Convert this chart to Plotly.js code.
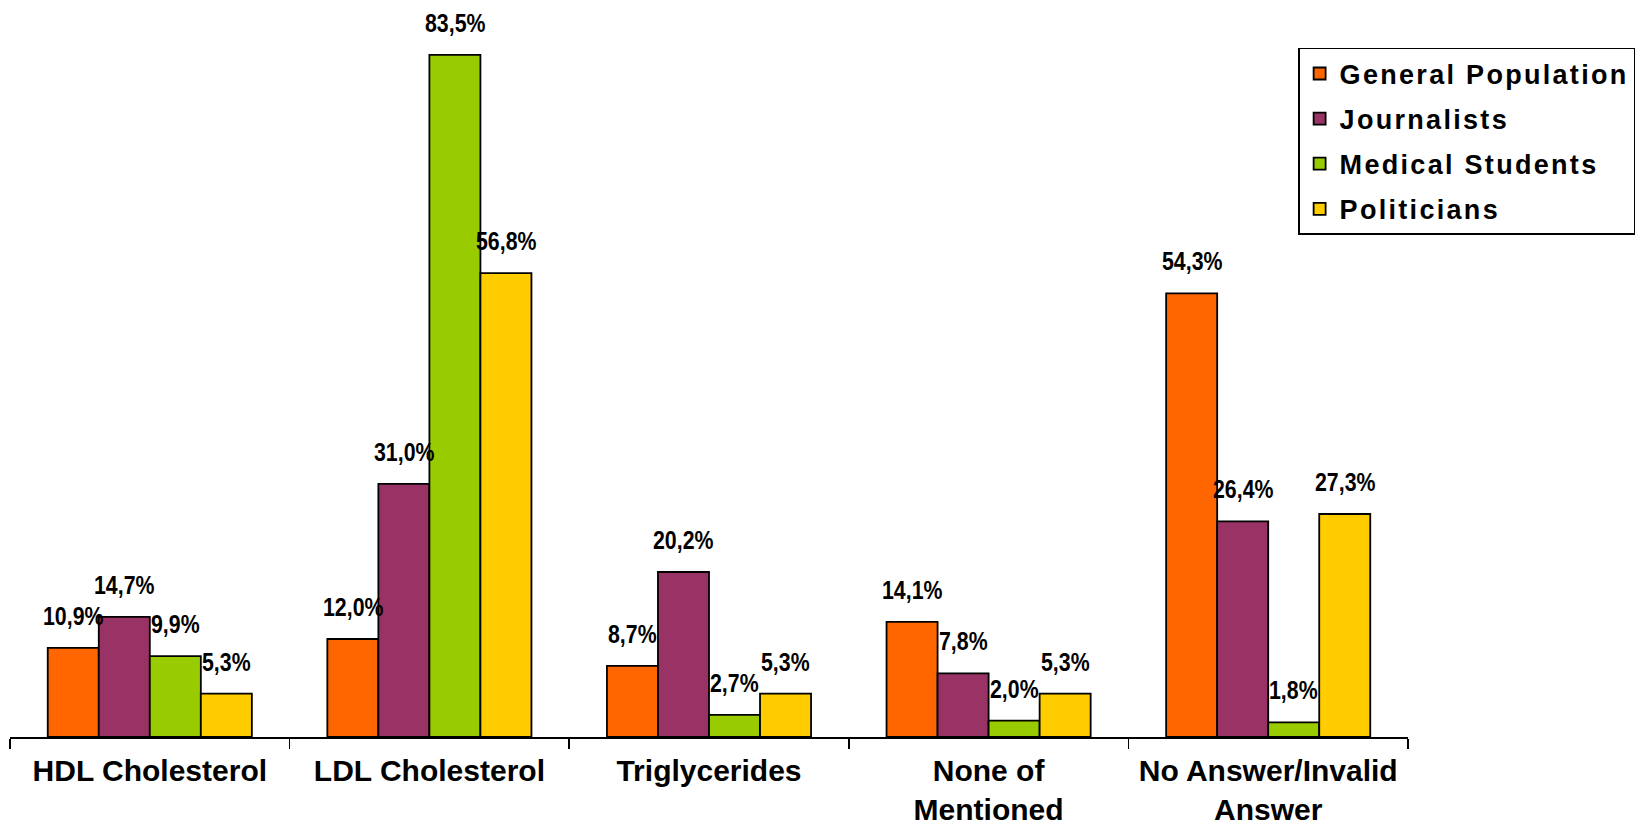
<!DOCTYPE html>
<html>
<head>
<meta charset="utf-8">
<script src="https://cdn.plot.ly/plotly-3.0.1.min.js"></script>
<style>
  html, body { margin: 0; padding: 0; background: #fff; }
  #chart { width: 1645px; height: 827px; }
  .legendtext { letter-spacing: 2.3px; }
  .annotation-text { transform-box: fill-box; transform-origin: center; transform: scaleX(0.82); }
</style>
</head>
<body>
<div id="chart"></div>
<script>
// ---- data ----
const categories = ["HDL Cholesterol", "LDL Cholesterol", "Triglycerides", "None of<br>Mentioned", "No Answer/Invalid<br>Answer"];
const seriesNames = ["General Population", "Journalists", "Medical Students", "Politicians"];
const generalPopulation = [10.9, 12.0, 8.7, 14.1, 54.3];
const journalists = [14.7, 31.0, 20.2, 7.8, 26.4];
const medicalStudents = [9.9, 83.5, 2.7, 2.0, 1.8];
const politicians = [5.3, 56.8, 5.3, 5.3, 27.3];
const seriesValues = [generalPopulation, journalists, medicalStudents, politicians];

// ---- styles ----
const colors = ["#FF6600", "#993366", "#99CC00", "#FFCC00"];
const bargap = 0.27;
const barW = (1 - bargap) / seriesValues.length;
const labelFont = { family: "Liberation Sans, Arial, sans-serif", size: 26, weight: 700, color: "#000" };
const axisFont = { family: "Liberation Sans, Arial, sans-serif", size: 30, weight: 700, color: "#000" };
const legendFont = { family: "Liberation Sans, Arial, sans-serif", size: 27, weight: 700, color: "#000" };

const traces = seriesValues.map((vals, j) => ({
  type: "bar",
  name: seriesNames[j],
  x: categories,
  y: vals,
  legendgroup: "g" + j,
  marker: { color: colors[j], line: { color: "#000", width: 1.8 } },
  hoverinfo: "skip"
}));

const annotations = [];
seriesValues.forEach((vals, j) => {
  vals.forEach((v, i) => {
    annotations.push({
      x: i + (j - (seriesValues.length - 1) / 2) * barW,
      y: v,
      xref: "x", yref: "y",
      text: v.toFixed(1).replace(".", ",") + "%",
      showarrow: false,
      xanchor: "center", yanchor: "middle",
      yshift: 32,
      font: labelFont
    });
  });
});

const layout = {
  width: 1645, height: 827,
  margin: { l: 10, r: 234, t: 10, b: 90 },
  paper_bgcolor: "#fff", plot_bgcolor: "#fff",
  barmode: "group",
  bargap: bargap,
  bargroupgap: 0,
  showlegend: true,
  legend: {
    x: 0.9214, y: 0.9478, xanchor: "left", yanchor: "top",
    bgcolor: "#fff", bordercolor: "#000", borderwidth: 1.5,
    font: legendFont,
    traceorder: "grouped",
    tracegroupgap: 7
  },
  xaxis: {
    type: "category",
    showline: true, linecolor: "#000", linewidth: 1.5,
    ticks: "outside", tickson: "boundaries", ticklen: 10, tickwidth: 1.5, tickcolor: "#000",
    ticklabelstandoff: 6,
    tickfont: axisFont,
    showgrid: false, zeroline: false, fixedrange: true
  },
  yaxis: {
    range: [0, 89],
    visible: false,
    showgrid: false, zeroline: false, fixedrange: true
  },
  annotations: annotations
};

Plotly.newPlot("chart", traces, layout, { displayModeBar: false, staticPlot: true });
</script>
</body>
</html>
